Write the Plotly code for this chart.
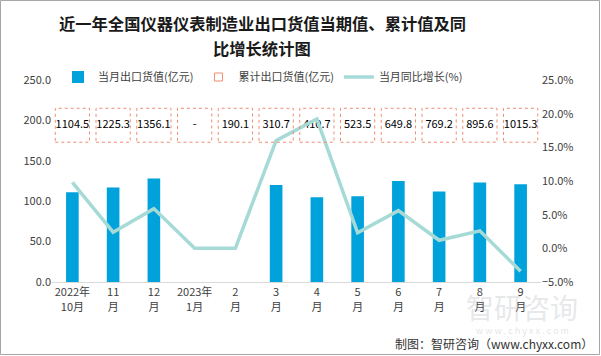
import plotly.graph_objects as go

categories = ["2022年<br>10月", "11<br>月", "12<br>月", "2023年<br>1月", "2<br>月", "3<br>月",
              "4<br>月", "5<br>月", "6<br>月", "7<br>月", "8<br>月", "9<br>月"]
monthly_value = [111, 117, 128, None, None, 120, 105, 106, 125, 112, 123, 121]
cumulative_labels = ["1104.5", "1225.3", "1356.1", "-", "190.1", "310.7", "410.7",
                     "523.5", "649.8", "769.2", "895.6", "1015.3"]
yoy_growth = [9.8, 2.4, 5.9, 0.0, 0.0, 16.0, 19.2, 2.3, 5.6, 1.2, 2.6, -3.4]

FONT = "Noto Sans CJK SC"
W, H = 601, 356
L, R, T, B = 52, 60, 80, 74
PW, PH = W - L - R, H - T - B


def px_x(x):
    return (x - L) / PW


def px_y(y):
    return (H - B - y) / PH


fig = go.Figure()

fig.add_trace(go.Bar(
    x=categories, y=monthly_value, name="当月出口货值(亿元)",
    marker=dict(color="#00A2DC", line=dict(width=0)), width=0.31,
    yaxis="y",
))

# legend-only entry for cumulative
fig.add_trace(go.Scatter(
    x=[None], y=[None], mode="markers", name="累计出口货值(亿元)",
    marker=dict(symbol="square-open", size=8, color="#F08C70", line=dict(width=1)),
))

fig.add_trace(go.Scatter(
    x=categories, y=yoy_growth, name="当月同比增长(%)", mode="lines",
    line=dict(color="#A6DAD7", width=3.5), yaxis="y2",
))

# cumulative label text
label_y = 194
fig.add_trace(go.Scatter(
    x=categories, y=[label_y] * len(categories), mode="text",
    text=cumulative_labels, textfont=dict(size=11, color="#000000", family=FONT),
    showlegend=False, hoverinfo="skip", yaxis="y",
))

shapes = []
for i, _ in enumerate(categories):
    shapes.append(dict(
        type="rect", xref="x", yref="y",
        x0=i - 0.42, x1=i + 0.42, y0=173, y1=215,
        line=dict(color="#F08C70", width=1, dash="dot"),
        fillcolor="rgba(0,0,0,0)", layer="above",
    ))
# outer border
shapes.append(dict(
    type="rect", xref="paper", yref="paper",
    x0=px_x(0.5), x1=px_x(W - 1.5), y0=px_y(H - 1.5), y1=px_y(0.5),
    line=dict(color="#A6A6A6", width=1), fillcolor="rgba(0,0,0,0)",
))

fig.update_layout(
    width=W, height=H,
    margin=dict(l=L, r=R, t=T, b=B, autoexpand=False),
    paper_bgcolor="white", plot_bgcolor="white",
    font=dict(family=FONT, size=11, color="#404040"),
    legend=dict(
        orientation="h", x=px_x(263), xanchor="center", y=px_y(77), yanchor="middle",
        font=dict(size=11, color="#404040"), bgcolor="rgba(0,0,0,0)",
        itemwidth=30, tracegroupgap=0,
    ),
    xaxis=dict(
        type="category", showgrid=False, showline=True, linecolor="#D9D9D9", linewidth=1,
        ticks="", tickfont=dict(size=11, color="#404040"), range=[-0.5, 11.5],
    ),
    yaxis=dict(
        range=[0, 250], dtick=50, tickformat=".1f", showgrid=False, zeroline=False,
        showline=False, ticks="", tickfont=dict(size=11, color="#404040"),
    ),
    yaxis2=dict(
        range=[-5, 25], dtick=5, tickformat=".1f", ticksuffix="%", overlaying="y",
        side="right", showgrid=False, zeroline=False, showline=False, ticks="",
        tickfont=dict(size=11, color="#404040"),
    ),
    shapes=shapes,
    bargap=0.5,
)

# title lines
fig.add_annotation(
    xref="paper", yref="paper", x=px_x(262), y=px_y(23), xanchor="center", yanchor="middle",
    showarrow=False, text="<b>近一年全国仪器仪表制造业出口货值当期值、累计值及同</b>",
    font=dict(size=16.3, color="#1a1a1a", family=FONT),
)
fig.add_annotation(
    xref="paper", yref="paper", x=px_x(262), y=px_y(48), xanchor="center", yanchor="middle",
    showarrow=False, text="<b>比增长统计图</b>",
    font=dict(size=16.3, color="#1a1a1a", family=FONT),
)

fig.add_annotation(
    xref="paper", yref="paper", x=px_x(595), y=px_y(343),
    xanchor="right", yanchor="middle", showarrow=False,
    text="制图：智研咨询（www.chyxx.com）", font=dict(size=12, color="#333333", family=FONT),
)
# watermark
fig.add_annotation(
    xref="paper", yref="paper", x=px_x(522), y=px_y(307),
    xanchor="center", yanchor="middle", showarrow=False,
    text="智研咨询", font=dict(size=28, color="rgba(170,175,180,0.3)", family=FONT),
)
fig.add_annotation(
    xref="paper", yref="paper", x=px_x(522), y=px_y(330),
    xanchor="center", yanchor="middle", showarrow=False,
    text="w w w . c h y x x . c o m", font=dict(size=9, color="rgba(170,175,180,0.35)", family=FONT),
)

fig.write_html(
    "out.html",
    config={"displayModeBar": False},
    post_script="document.body.style.margin='0';document.body.style.overflow='hidden';",
)
